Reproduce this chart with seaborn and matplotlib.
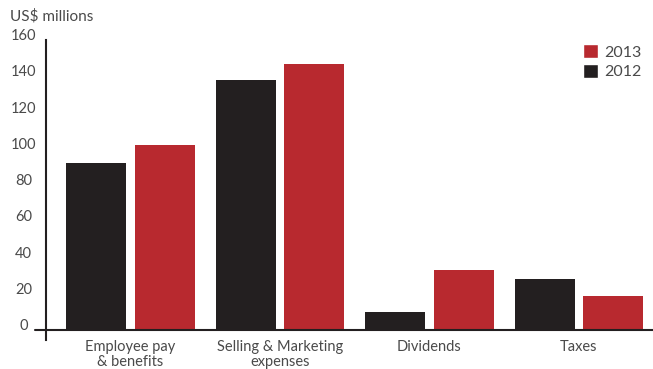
import matplotlib
matplotlib.use("Agg")
import matplotlib.pyplot as plt
import matplotlib.transforms as mtransforms
from matplotlib.patches import Patch
import seaborn as sns
import pandas as pd

categories = ["Employee pay\n& benefits", "Selling & Marketing\nexpenses", "Dividends", "Taxes"]
values_2012 = [92, 138, 10, 28]
values_2013 = [102, 147, 33, 19]
years = ["2012", "2013"]
yticks = [0, 20, 40, 60, 80, 100, 120, 140, 160]

df = pd.DataFrame({
    "category": categories * 2,
    "year": ["2012"] * len(categories) + ["2013"] * len(categories),
    "value": values_2012 + values_2013,
})

sns.set_style("white")
plt.rcParams["font.family"] = ["Lato", "DejaVu Sans"]

palette = {"2012": "#231f20", "2013": "#b8292f"}
text_color = "#4a4a4a"

fig = plt.figure(figsize=(6.53, 3.69), dpi=100)
ax = fig.add_axes([46 / 653, (369 - 340) / 369, 1 - 46 / 653, (340 - 40) / 369])

sns.barplot(data=df, x="category", y="value", hue="year", hue_order=years,
            palette=palette, width=0.92, gap=0.13, ax=ax, legend=False,
            saturation=1, edgecolor="none")

ax.set_ylim(-5.5, 160)
ax.set_xlim(-0.565, 3.495)
ax.set_xlabel("")
ax.set_ylabel("")

for s in ["top", "right", "bottom"]:
    ax.spines[s].set_visible(False)
ax.spines["left"].set_color("#231f20")
ax.spines["left"].set_linewidth(1.5)

trans = mtransforms.blended_transform_factory(ax.transAxes, ax.transData)
ax.plot([-0.018, 1], [0, 0], transform=trans, color="#231f20", lw=1.5, clip_on=False)

ax.set_yticks(yticks)
ax.set_yticklabels([str(v) for v in yticks])
ax.tick_params(axis="y", length=0, pad=16, labelsize=10.5, labelcolor=text_color)
for lbl in ax.get_yticklabels():
    lbl.set_va("baseline")
    lbl.set_ha("center")
ax.tick_params(axis="x", length=0, pad=0, labelsize=10.5, labelcolor=text_color)
for lbl in ax.get_xticklabels():
    lbl.set_linespacing(1.05)

fig.text(10 / 653, 1 - 16 / 369, "US$ millions", ha="left", va="center",
         fontsize=11, color=text_color)

handles = [Patch(facecolor=palette["2013"], label="2013"),
           Patch(facecolor=palette["2012"], label="2012")]
leg = fig.legend(handles=handles, loc="upper right", bbox_to_anchor=(648 / 653, 1 - 38 / 369),
                 frameon=False, fontsize=11.5, handlelength=0.9, handleheight=0.9,
                 handletextpad=0.4, labelspacing=0.3, borderaxespad=0)
for t in leg.get_texts():
    t.set_color(text_color)

fig.savefig("out.png", dpi=100)
